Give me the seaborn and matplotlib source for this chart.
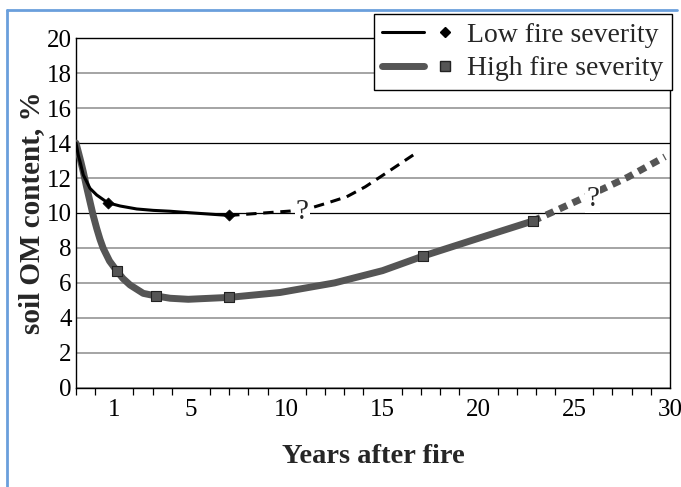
import numpy as np
import pandas as pd
import matplotlib
matplotlib.use("Agg")
import matplotlib.pyplot as plt
from matplotlib.lines import Line2D
from matplotlib.legend_handler import HandlerTuple
import seaborn as sns

# data (years after fire, soil OM %)
low_x = [-1.0, -0.88, -0.79, -0.62, -0.27, 0.08, 0.65, 1.30, 2.17, 3.03, 3.91, 4.86, 6.99]
low_y = [14.0, 13.3, 12.94, 12.18, 11.41, 11.03, 10.59, 10.40, 10.23, 10.15, 10.10, 10.02, 9.86]
low_pts_x = [0.65, 6.99]
low_pts_y = [10.59, 9.86]
low_future_x = [6.99, 7.91, 10.17, 11.21, 12.08, 13.13, 14.1, 15.04, 16.60]
low_future_y = [9.86, 9.93, 10.11, 10.27, 10.56, 10.93, 11.5, 12.18, 13.32]

high_x = [-1.0, -0.88, -0.75, -0.62, -0.45, -0.27, -0.1, 0.08, 0.25, 0.42, 0.75, 1.12,
          1.45, 1.82, 2.51, 3.18, 3.91, 4.86, 7.00, 9.65, 12.5, 15.0, 17.13, 20.0, 22.84]
high_y = [14.0, 13.5, 12.95, 12.36, 11.5, 10.65, 9.85, 9.12, 8.5, 7.98, 7.25, 6.70,
          6.25, 5.88, 5.40, 5.25, 5.12, 5.06, 5.17, 5.45, 6.0, 6.7, 7.54, 8.55, 9.54]
high_pts_x = [1.12, 3.18, 7.00, 17.13, 22.84]
high_pts_y = [6.70, 5.25, 5.17, 7.54, 9.54]
high_future_x = [22.84, 23.91, 25.96, 27.8, 29.74]
high_future_y = [9.54, 10.07, 11.1, 12.05, 13.22]

xtick_years = [1, 5, 10, 15, 20, 25, 30]
series_names = ["Low fire severity", "High fire severity"]

low_col = "black"
high_col = "#555555"

sns.set_theme(style="white")
plt.rcParams["font.family"] = ["Liberation Serif", "DejaVu Serif"]

fig = plt.figure(figsize=(6.81, 4.87), dpi=100)
ax = fig.add_axes([0.1116, 0.2039, 0.8722, 0.7175])

# solid curves
sns.lineplot(x=low_x, y=low_y, sort=False, estimator=None, ax=ax,
             color=low_col, linewidth=2.2, zorder=4)
sns.lineplot(x=high_x, y=high_y, sort=False, estimator=None, ax=ax,
             color=high_col, linewidth=5.0, zorder=3)
# projected (dashed) parts
sns.lineplot(x=low_future_x, y=low_future_y, sort=False, estimator=None, ax=ax,
             color=low_col, linewidth=2.2, linestyle=(0, (3.4, 2.2)), zorder=4)
sns.lineplot(x=high_future_x, y=high_future_y, sort=False, estimator=None, ax=ax,
             color=high_col, linewidth=5.0, linestyle=(0, (1.2, 0.9)), zorder=3)
# markers
sns.scatterplot(x=low_pts_x, y=low_pts_y, marker="D", s=32, color=low_col,
                edgecolor=low_col, linewidth=0.5, ax=ax, zorder=6)
sns.scatterplot(x=high_pts_x, y=high_pts_y, marker="s", s=60, color=high_col,
                edgecolor="#222222", linewidth=0.8, ax=ax, zorder=6)

# question marks on the projections
for qx, qy in [(10.82, 10.07), (25.96, 10.8)]:
    ax.text(qx, qy, "?", fontsize=21, ha="center", va="center", zorder=7,
            bbox=dict(facecolor="white", edgecolor="none", pad=0.5))

ax.set_xlim(-1, 30)
ax.set_ylim(0, 20)
ax.set_yticks(np.arange(0, 21, 2))
ax.set_xticks(xtick_years)
ax.set_xticklabels([str(v) for v in xtick_years])
ax.set_xticks(np.arange(-1, 31, 1), minor=True)
ax.tick_params(axis="y", length=0, pad=3, labelsize=18, colors="black")
ax.tick_params(axis="x", which="major", length=0, pad=8, labelsize=18, colors="black")
ax.tick_params(axis="x", which="minor", bottom=True, direction="out", length=5,
               width=0.9, color="black")

ax.yaxis.grid(True, color="#8c8c8c", linewidth=1.1, zorder=0)
for val, gl in zip(np.arange(0, 21, 2), ax.get_ygridlines()):
    if val in (10, 14):
        gl.set_color("black")
        gl.set_linewidth(0.9)
ax.set_axisbelow(True)
for sp in ax.spines.values():
    sp.set_visible(True)
    sp.set_color("black")
    sp.set_linewidth(1.0)

ax.set_xlabel("Years after fire", fontsize=20.5, fontweight="bold", labelpad=17)
ax.set_ylabel("soil OM content, %", fontsize=21, fontweight="bold", labelpad=1)

h_low = (Line2D([], [], color=low_col, linewidth=2.2),
         Line2D([], [], color=low_col, marker="D", markersize=5, linestyle="none"))
h_high = (Line2D([], [], color=high_col, linewidth=5.0),
          Line2D([], [], color=high_col, marker="s", markersize=7,
                 markeredgecolor="#222222", linestyle="none"))
leg = ax.legend([h_low, h_high], series_names,
                handler_map={tuple: HandlerTuple(ndivide=None, pad=0)},
                loc="upper right", bbox_to_anchor=(1.003, 1.07), borderaxespad=0,
                fontsize=20, handlelength=3.0, handletextpad=0.05,
                labelspacing=0.3, borderpad=0.3, fancybox=False, framealpha=1,
                edgecolor="black")
leg.get_frame().set_linewidth(1.0)
leg.set_zorder(10)

# light blue frame lines of the original figure
fig.add_artist(Line2D([7 / 681, 7 / 681], [0, 1 - 10 / 487], color="#6a9fdc",
                      linewidth=2, transform=fig.transFigure))
fig.add_artist(Line2D([7 / 681, 677 / 681], [1 - 10 / 487, 1 - 10 / 487],
                      color="#6a9fdc", linewidth=2, transform=fig.transFigure))

fig.savefig("out.png", dpi=100)
